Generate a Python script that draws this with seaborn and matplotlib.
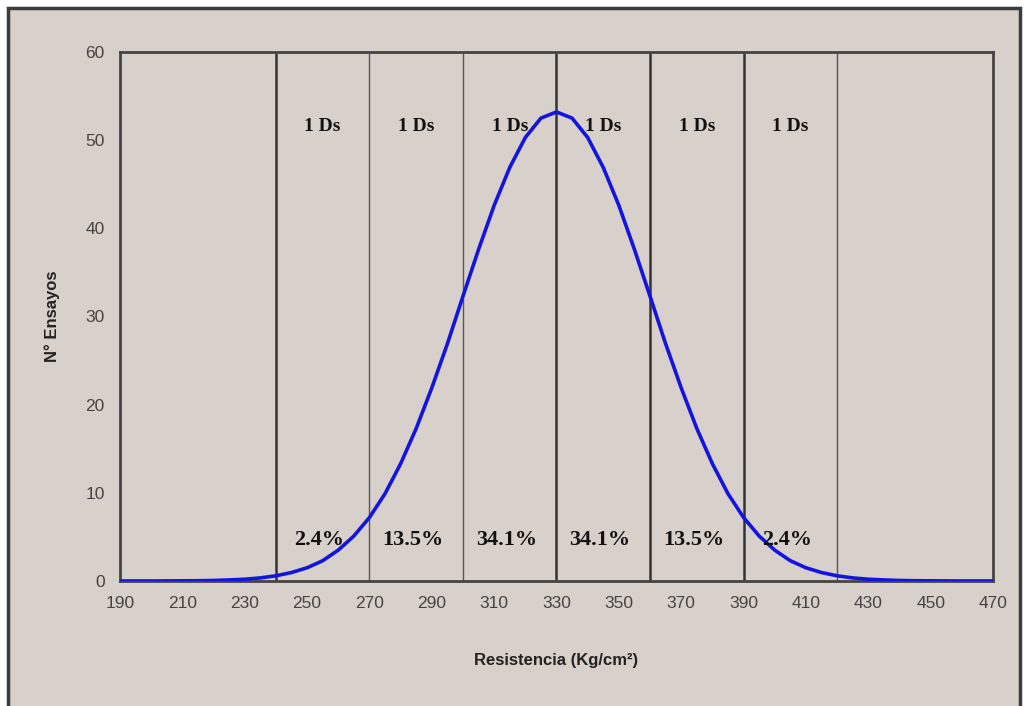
import numpy as np
import pandas as pd
import matplotlib
matplotlib.use("Agg")
import matplotlib.pyplot as plt
from matplotlib.patches import Rectangle
import seaborn as sns

# curva (cada 5 kg/cm2, de 190 a 470)
resistencia = list(range(190, 475, 5))
ensayos = [0.0, 0.0, 0.0, 0.01, 0.02, 0.03, 0.06, 0.12, 0.2, 0.35,
           0.59, 0.96, 1.5, 2.3, 3.5, 5.1, 7.2, 9.9, 13.3, 17.3,
           21.9, 26.9, 32.3, 37.6, 42.6, 46.9, 50.3, 52.5,
           53.2,
           52.5, 50.3, 46.9, 42.6, 37.6, 32.3, 26.9, 21.9,
           17.3, 13.3, 9.9, 7.2, 5.1, 3.5, 2.3, 1.5, 0.96, 0.59,
           0.35, 0.2, 0.12, 0.06, 0.03, 0.02, 0.01, 0.0, 0.0, 0.0]

lineas_gruesas = [240, 330, 360, 390]
lineas_finas = [270, 300, 420]
centros = [255, 285, 315, 345, 375, 405]
etiquetas_ds = ["1 Ds"] * 6
porcentajes = ["2.4%", "13.5%", "34.1%", "34.1%", "13.5%", "2.4%"]

df = pd.DataFrame({"Resistencia": resistencia, "Ensayos": ensayos})

fondo = "#d8d0cb"
sns.set_style("white")
plt.rcParams["font.family"] = ["Liberation Sans", "DejaVu Sans"]

fig = plt.figure(figsize=(10.24, 7.06), dpi=100, facecolor="white")
fig.patches.append(Rectangle((8 / 1024, -0.05), 1012 / 1024, 1 - 8 / 706 + 0.05,
                             transform=fig.transFigure, facecolor=fondo,
                             edgecolor="#3c3c3c", linewidth=2.5, zorder=-10))
ax = fig.add_axes([120 / 1024, 1 - 581 / 706, 873 / 1024, 529 / 706])
ax.set_facecolor(fondo)

for x in lineas_gruesas:
    ax.axvline(x, color="#333333", lw=1.8, zorder=1)
for x in lineas_finas:
    ax.axvline(x, color="#555555", lw=1.0, zorder=1)

sns.lineplot(data=df, x="Resistencia", y="Ensayos", color="#1414e0", lw=2.6, ax=ax, zorder=3)

for c, t in zip(centros, etiquetas_ds):
    ax.text(c, 51.5, t, ha="center", va="center", family="Liberation Serif",
            fontweight="bold", fontsize=14, color="#111111", zorder=4)
for c, t in zip(centros, porcentajes):
    ax.text(c - 1, 4.6, t, ha="center", va="center", family="Liberation Serif",
            fontweight="bold", fontsize=16, color="#111111", zorder=4)

ax.set_xlim(190, 470)
ax.set_ylim(0, 60)
ax.set_xticks(range(190, 471, 20))
ax.set_yticks(range(0, 61, 10))
ax.tick_params(axis="both", direction="out", length=5, width=1.3, color="#333333",
               labelsize=12.5, labelcolor="#444444", pad=6)
for s in ax.spines.values():
    s.set_color("#444444")
    s.set_linewidth(2)

ax.set_xlabel("Resistencia (Kg/cm²)", fontsize=12, fontweight="bold", color="#222222", labelpad=30)
ax.set_ylabel("N° Ensayos", fontsize=12, fontweight="bold", color="#222222", labelpad=18)

plt.savefig("out.png", dpi=100, facecolor=fig.get_facecolor())
